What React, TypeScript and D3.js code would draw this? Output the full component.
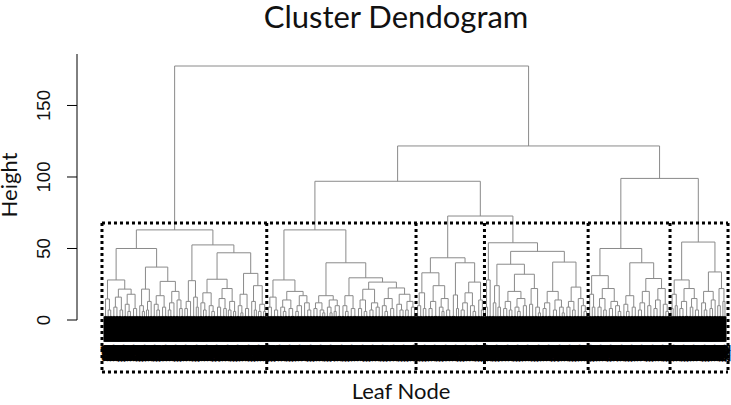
import React, { useMemo } from "react";
import * as d3 from "d3";

// A node is either a bundle of n leaves (number) or a merge [height, left, right].
type Spec = number | [number, Spec, Spec];

// Upper merge heights
const ROOT_HEIGHT = 177.6;
const RIGHT_HEIGHT = 121.7;
const B_HEIGHT = 97;
const BR_HEIGHT = 72.7;
const C_HEIGHT = 99;

// Cluster 1 (leftmost box)
const A_LL: Spec = [28, [14.7, 3, [7, 2, 3]], [21.6, [16, [9, 3, 3], [7, 3, 2]], [18, [11, 3, [6, 2, 3]], [8, 3, 3]]]];
const A_LR: Spec = [37, [21.6, [10, 3, [6, 2, 2]], [13, [7, 2, 2], 3]], [27, [17, [11, 3, [7, 2, 3]], [9, 3, 3]], [20, [12, [7, 2, 3], 3], [14, 3, [8, 2, 3]]]]];
const A_RL: Spec = [27.5, [13, [8, 2, 3], 3], [16, 3, [9, 2, 2]]];
const A_RR: Spec = [47, [28.5, [19, [12, 3, [7, 2, 3]], [10, 3, [6, 2, 3]]], [22, [15, [9, 3, 3], [8, 3, 2]], [13, [7, 2, 3], [6, 2, 2]]]], [32.6, [18, [10, 3, [5, 2, 2]], [8, 3, 3]], [24, [13, 3, [7, 2, 2]], [11, [6, 2, 3], [6, 2, 2]]]]];
const CLUSTER_1: Spec = [63, [50, A_LL, A_LR], [52.5, A_RL, A_RR]];

// Cluster 2
const B_LL: Spec = [28, [16, [9, 3, 3], [7, 3, 3]], [20, [14, [9, 3, [6, 2, 3]], [8, 3, 4]], [17, [10, [6, 2, 3], 3], [12, 3, [7, 3, 3]]]]];
const B_LRL: Spec = [17, [12, [8, 3, 3], [7, 3, [5, 2, 2]]], [14, [9, 3, [5, 2, 2]], [10, [6, 2, 2], 4]]];
const B_LRR: Spec = [29.5, [17, [10, 3, [6, 2, 3]], [8, 3, 4]], [26.5, [21.5, [14, [8, 3, 3], [6, 2, 3]], [12, [7, 3, 3], [9, 3, 3]]], [22.4, [15, [10, 3, [6, 2, 3]], [8, 3, 3]], [18, [11, 3, [7, 3, 3]], [13, [7, 2, 3], [9, 3, 3]]]]]];
const CLUSTER_2: Spec = [63, B_LL, [40, B_LRL, B_LRR]];

// Cluster 3
const CLUSTER_3: Spec = [43.5,
  [33, [19, [10, 3, 3], [8, 2, 3]], [24, [13, [8, 3, 3], 4], [15, [9, 3, [6, 2, 2]], [7, 3, 3]]]],
  [40, [17.5, 4, [8, 2, 2]], [26.5, [19, [12, [7, 3, 3], 3], [10, 3, [6, 2, 3]]], [14, 3, [7, 2, 2]]]]];

// Cluster 4
const D_RL: Spec = [39, [24, [12, 3, 2], [9, 2, 3]], [32, [20, [13, [8, 3, 3], [7, 2, 3]], [15, [9, 3, [6, 2, 3]], [10, 3, 3]]], [22, [11, 3, 3], [9, 3, [5, 2, 2]]]]];
const D_RR: Spec = [40.5, [20, [12, [8, 3, 3], 4], [14, [7, 3, 3], [9, 3, [5, 2, 2]]]], [23, [13, [9, 3, 3], [7, 2, 3]], [15, 3, [10, 3, [6, 2, 3]]]]];
const CLUSTER_4: Spec = [54, [28, [9, 2, 2], 3], [48, D_RL, D_RR]];

// Cluster 5
const CLUSTER_5: Spec = [50,
  [31, [18, 3, [9, 2, 3]], [22, [15, [9, 3, 3], [7, 2, 3]], [13, [8, 3, 3], [10, 3, [6, 2, 3]]]]],
  [40, [17, [11, 3, [6, 2, 3]], [9, 3, 3]], [29, [20, [12, [7, 3, 3], 3], [10, 3, 3]], [22, [14, [8, 3, 3], 3], [11, 3, [6, 2, 3]]]]]];

// Cluster 6 (rightmost box)
const CLUSTER_6: Spec = [54.5,
  [28, [18, [8, 2, 2], [10, 2, 2]], [22, [13, [8, 3, 3], 4], [15, [9, 3, 2], [7, 3, 3]]]],
  [33.6, [20, [12, 3, [7, 2, 3]], [14, [8, 3, 2], 3]], [22, [10, 2, 3], [13, 2, 2]]]];

const CLUSTERS: Spec[] = [CLUSTER_1, CLUSTER_2, CLUSTER_3, CLUSTER_4, CLUSTER_5, CLUSTER_6];

const Y_TICKS = [0, 50, 100, 150];
const BUNDLE_BASE = 2.5; // height at which leaves of a bundle join
const HANG = 0.1 * ROOT_HEIGHT; // R's hang = 0.1
const BOX_TOP = (BR_HEIGHT + 63) / 2; // rect.hclust, k = 6

type TNode = { h: number; kind: "merge" | "bundle" | "leaf"; cluster?: number; children?: TNode[] };

function build(spec: Spec, cluster?: number): TNode {
  if (typeof spec === "number") {
    return {
      h: BUNDLE_BASE,
      kind: "bundle",
      children: d3.range(spec).map(() => ({ h: BUNDLE_BASE - HANG, kind: "leaf" as const })),
    };
  }
  return { h: spec[0], kind: "merge", cluster, children: [build(spec[1]), build(spec[2])] };
}

const W = 731;
const H = 405;

export default function App() {
  const layout = useMemo(() => {
    const c = CLUSTERS.map((s, i) => build(s, i));
    const tree: TNode = {
      h: ROOT_HEIGHT, kind: "merge", children: [
        c[0],
        { h: RIGHT_HEIGHT, kind: "merge", children: [
          { h: B_HEIGHT, kind: "merge", children: [c[1], { h: BR_HEIGHT, kind: "merge", children: [c[2], c[3]] }] },
          { h: C_HEIGHT, kind: "merge", children: [c[4], c[5]] },
        ] },
      ],
    };
    const root = d3.hierarchy<TNode>(tree, (d) => d.children);
    const leaves = root.leaves();
    const n = leaves.length;
    const x = d3.scaleLinear().domain([0, n - 1]).range([104.5, 725.5]);
    const idx = new Map<any, number>();
    leaves.forEach((l, i) => { (l as any).x = x(i); idx.set(l, i); });
    root.eachAfter((nd: any) => {
      if (nd.children) nd.x = d3.mean(nd.children, (ch: any) => ch.x);
    });
    const clusterNodes = root.descendants().filter((d) => d.data.cluster !== undefined);
    const ranges = clusterNodes
      .map((cn) => {
        const lv = cn.leaves();
        return [idx.get(lv[0])!, idx.get(lv[lv.length - 1])!];
      })
      .sort((a, b) => a[0] - b[0]);
    return { root, leaves, x, ranges, n };
  }, []);

  const y = d3.scaleLinear().domain([0, 186]).range([320, 54]);
  const { root, leaves, x, ranges, n } = layout;
  const nodes = root.descendants();
  const internal = nodes.filter((d) => d.children);
  const links = root.links();
  // observation ids in dendrogram order (a permutation of 1..n)
  const obsId = (i: number) => String(((i * 389) % n) + 1);

  // box boundaries
  const bounds: number[] = [x(ranges[0][0] - 0.5) - 2];
  ranges.forEach((r, i) => {
    bounds.push(i === ranges.length - 1 ? x(r[1] + 0.5) + 2 : x(r[1] + 0.5));
  });
  const boxTop = y(BOX_TOP);
  const boxBottom = 372;

  return (
    <svg width={W} height={H} style={{ position: "absolute", left: 0, top: 0, background: "#fff" }}>
      <text x={396} y={28} textAnchor="middle" fontFamily="Lato, 'Open Sans', sans-serif" fontSize={31} fill="#111">
        Cluster Dendogram
      </text>

      {/* tree horizontals */}
      {internal.map((d: any, i) => (
        <line key={"h" + i}
          x1={d.children[0].x} x2={d.children[d.children.length - 1].x}
          y1={y(d.data.h)} y2={y(d.data.h)}
          stroke={d.data.kind === "bundle" ? "#222" : "#8a8a8a"} strokeWidth={1} />
      ))}
      {/* tree verticals */}
      {links.map((l: any, i) => {
        const isLeaf = l.target.data.kind === "leaf";
        return (
          <line key={"v" + i}
            x1={l.target.x} x2={l.target.x}
            y1={y(l.source.data.h)} y2={y(l.target.data.h)}
            stroke={isLeaf ? "#000" : "#8a8a8a"} strokeWidth={isLeaf ? 2 : 1} />
        );
      })}

      {/* leaf labels */}
      <g fontFamily="'Liberation Sans', Arial, sans-serif" fontSize={11} fontWeight="bold"
        letterSpacing={-1} fill="#000" stroke="#000" strokeWidth={0.6}>
        {leaves.map((l: any, i) => (
          <text key={"t" + i} transform={`translate(${l.x},${y(l.data.h) + 4}) rotate(-90)`}
            textAnchor="end" dominantBaseline="central">{obsId(i)}</text>
        ))}
      </g>

      {/* cluster boxes */}
      <g stroke="#000" strokeWidth={3} strokeDasharray="3 3" fill="none">
        <line x1={bounds[0]} x2={bounds[bounds.length - 1]} y1={boxTop} y2={boxTop} />
        <line x1={bounds[0]} x2={bounds[bounds.length - 1]} y1={boxBottom} y2={boxBottom} />
        {bounds.map((b, i) => (
          <line key={"b" + i} x1={b} x2={b} y1={boxTop} y2={boxBottom} />
        ))}
      </g>

      {/* y axis */}
      <g stroke="#000" strokeWidth={1}>
        <line x1={77} x2={77} y1={y(0)} y2={y(186)} />
        {Y_TICKS.map((t) => (
          <line key={"k" + t} x1={67} x2={77} y1={y(t)} y2={y(t)} />
        ))}
      </g>
      <g fontFamily="'Liberation Sans', Arial, sans-serif" fontSize={18.5} fill="#111">
        {Y_TICKS.map((t) => (
          <text key={"l" + t} transform={`translate(50,${y(t)}) rotate(-90)`} textAnchor="middle">{t}</text>
        ))}
      </g>
      <text transform={`translate(17,185) rotate(-90)`} textAnchor="middle"
        fontFamily="Lato, 'Open Sans', sans-serif" fontSize={22} fill="#111">Height</text>
      <text x={401} y={399} textAnchor="middle" fontFamily="Lato, 'Open Sans', sans-serif" fontSize={22} fill="#111">
        Leaf Node
      </text>
    </svg>
  );
}
